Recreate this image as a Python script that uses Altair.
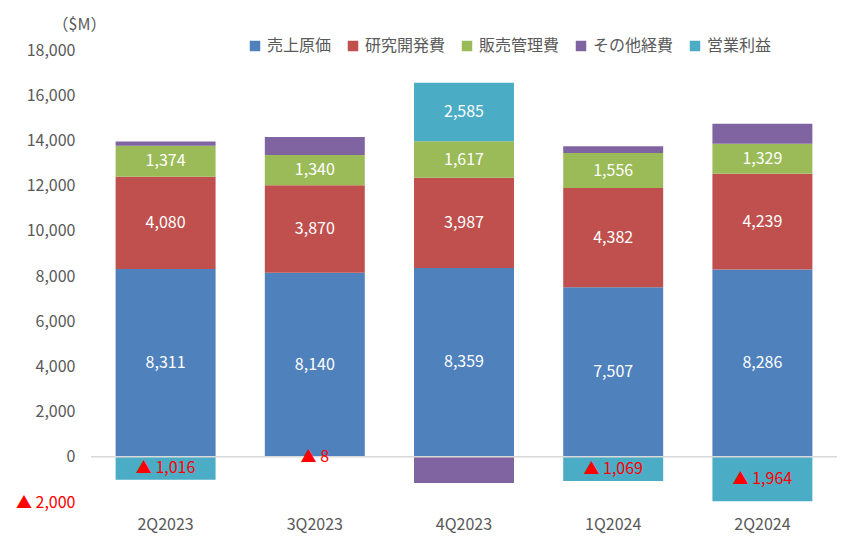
import altair as alt
import pandas as pd

quarters = ["2Q2023", "3Q2023", "4Q2023", "1Q2024", "2Q2024"]
series = ["売上原価", "研究開発費", "販売管理費", "その他経費", "営業利益"]
cogs = [8311, 8140, 8359, 7507, 8286]
rnd = [4080, 3870, 3987, 4382, 4239]
sga = [1374, 1340, 1617, 1556, 1329]
other = [190, 800, -1160, 300, 880]
op_income = [-1016, -8, 2585, -1069, -1964]
colors = ["#4F81BD", "#C0504D", "#9BBB59", "#8064A2", "#4BACC6"]
y_ticks = list(range(-2000, 18001, 2000))

rows = []
for si, (name, vals) in enumerate(zip(series, [cogs, rnd, sga, other, op_income])):
    for q, v in zip(quarters, vals):
        rows.append({"quarter": q, "series": name, "order": si, "value": v})
df = pd.DataFrame(rows)

FONT = "Noto Sans CJK JP"
GREY = "#595959"

x_enc = alt.X(
    "quarter:N", sort=quarters,
    scale=alt.Scale(paddingInner=0.33, paddingOuter=0.165),
    axis=alt.Axis(title=None, labelAngle=0, ticks=False, domain=False,
                  labelFontSize=16, labelColor=GREY, labelFont=FONT, labelPadding=14),
)
y_axis = alt.Axis(
    values=y_ticks, grid=False, ticks=False, domain=False,
    labelExpr="datum.value < 0 ? '▲ ' + format(-datum.value, ',') : format(datum.value, ',')",
    labelColor={"condition": {"test": "datum.value < 0", "value": "#FF0000"}, "value": GREY},
    labelFontSize=16, labelFont=FONT, labelPadding=16,
    title="（$M）", titleAngle=0, titleX=-12, titleY=-26, titleAlign="center",
    titleBaseline="middle", titleFontSize=16, titleFontWeight="normal",
    titleColor=GREY, titleFont=FONT,
)
y_scale = alt.Scale(domain=[-2000, 18000], nice=False, zero=False)

base = alt.Chart(df).transform_stack(
    stack="value", groupby=["quarter"], as_=["y0", "y1"],
    sort=[alt.SortField("order", order="ascending")],
).transform_calculate(
    mid="(datum.y0 + datum.y1) / 2",
    label="datum.value < 0 ? '▲ ' + format(-datum.value, ',') : format(datum.value, ',')",
)

bars = base.mark_bar().encode(
    x=x_enc,
    y=alt.Y("y0:Q", scale=y_scale, axis=y_axis),
    y2="y1:Q",
    color=alt.Color(
        "series:N", sort=series,
        scale=alt.Scale(domain=series, range=colors),
        legend=alt.Legend(
            title=None, orient="none", direction="horizontal",
            legendX=156, legendY=-12, symbolType="square", symbolSize=110,
            symbolStrokeWidth=0, labelFontSize=16, labelColor=GREY, labelFont=FONT,
            columnPadding=13, labelOffset=4, padding=0,
        ),
    ),
)

zero_rule = alt.Chart(pd.DataFrame({"y0": [0]})).mark_rule(
    color="#D9D9D9", strokeWidth=1.5
).encode(y=alt.Y("y0:Q", scale=y_scale, axis=y_axis))

labels = base.transform_filter("datum.series != 'その他経費'").mark_text(
    fontSize=16, font=FONT
).encode(
    x=x_enc,
    y=alt.Y("mid:Q", scale=y_scale, axis=y_axis),
    text="label:N",
    color=alt.condition("datum.value < 0", alt.value("#FF0000"), alt.value("white")),
)

chart = alt.layer(bars, zero_rule, labels).properties(
    width=746, height=452,
    autosize=alt.AutoSizeParams(type="none"),
    padding={"left": 83, "top": 42, "right": 5, "bottom": 35},
).configure(
    font=FONT, view=alt.ViewConfig(stroke="transparent", strokeWidth=0)
)

chart.save("out.html", embed_options={"renderer": "svg", "actions": False})
